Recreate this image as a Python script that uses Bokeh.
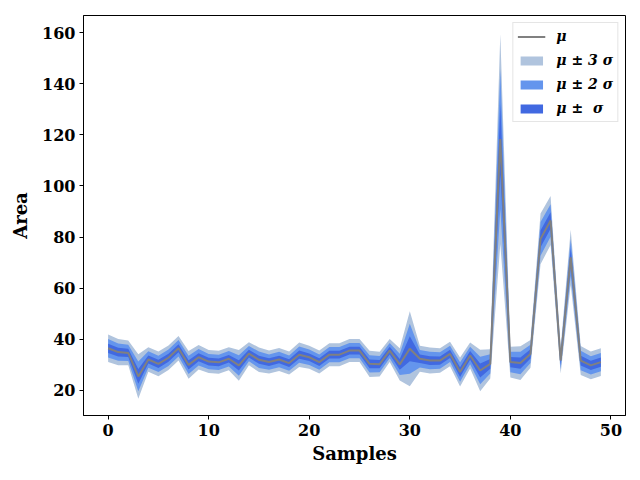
import numpy as np
from bokeh.plotting import figure
from bokeh.models import ColumnDataSource, Legend, LegendItem, FixedTicker, Range1d
from bokeh.embed import file_html
from bokeh.resources import INLINE

# Per-sample mean area and its standard deviation
samples = list(range(50))
mu = [36.5, 35.0, 34.7, 25.5, 32.1, 30.4, 32.8, 36.5, 30.0, 33.0,
      31.3, 31.0, 32.4, 29.8, 34.4, 32.0, 31.1, 32.1, 30.7, 34.0,
      33.0, 31.1, 34.0, 34.0, 35.6, 35.6, 30.4, 30.3, 35.6, 30.2,
      36.3, 32.4, 31.7, 31.7, 34.3, 27.2, 33.7, 27.8, 30.4, 118.4,
      31.1, 30.7, 34.3, 79.3, 86.5, 31.7, 72.1, 31.7, 29.8, 31.1]
sigma = [1.8, 1.7, 1.6, 2.9, 1.6, 1.6, 1.6, 1.6, 1.8, 1.6,
         1.5, 1.5, 1.5, 2.0, 1.5, 1.6, 1.5, 1.5, 1.5, 1.6,
         1.5, 1.5, 1.5, 1.5, 1.5, 1.5, 1.7, 1.6, 1.5, 2.1,
         4.9, 1.7, 1.7, 1.6, 1.6, 1.9, 1.7, 2.7, 1.9, 13.7,
         2.0, 2.2, 1.8, 3.3, 3.2, 1.7, 3.6, 1.9, 1.8, 1.8]

x_ticks = [0, 10, 20, 30, 40, 50]
y_ticks = [20, 40, 60, 80, 100, 120, 140, 160]

m = np.array(mu)
s = np.array(sigma)
src = ColumnDataSource(dict(
    x=samples, mu=mu,
    lo3=m - 3 * s, hi3=m + 3 * s,
    lo2=m - 2 * s, hi2=m + 2 * s,
    lo1=m - s, hi1=m + s,
))

FONT = "DejaVu Serif"

p = figure(width=640, height=480, output_backend="svg", toolbar_location=None,
           x_range=Range1d(-2.45, 51.45), y_range=Range1d(10.2, 166.7),
           min_border_left=83, min_border_right=15, min_border_top=15,
           min_border_bottom=65)

r3 = p.varea(x="x", y1="lo3", y2="hi3", source=src, fill_color="#B0C4DE")
r2 = p.varea(x="x", y1="lo2", y2="hi2", source=src, fill_color="#6495ED")
r1 = p.varea(x="x", y1="lo1", y2="hi1", source=src, fill_color="#4169E1")
rl = p.line(x="x", y="mu", source=src, line_color="grey", line_width=2)

p.xgrid.visible = False
p.ygrid.visible = False
p.outline_line_color = "black"
p.outline_line_width = 1
p.background_fill_color = "white"
p.border_fill_color = "white"

p.xaxis.ticker = FixedTicker(ticks=x_ticks)
p.yaxis.ticker = FixedTicker(ticks=y_ticks)
p.xaxis.axis_label = "Samples"
p.yaxis.axis_label = "Area"
for ax in (p.xaxis[0], p.yaxis[0]):
    ax.axis_label_text_font = FONT
    ax.axis_label_text_font_style = "bold"
    ax.axis_label_text_font_size = "18px"
    ax.axis_label_text_color = "black"
    ax.major_label_text_font = FONT
    ax.major_label_text_font_style = "bold"
    ax.major_label_text_font_size = "16px"
    ax.major_label_text_color = "black"
    ax.minor_tick_line_color = None
    ax.major_tick_in = 0
    ax.major_tick_out = 4
    ax.axis_line_color = "black"
    ax.major_label_standoff = 4
p.xaxis.axis_label_standoff = 4
p.yaxis.axis_label_standoff = 8

legend = Legend(items=[
    LegendItem(label="μ", renderers=[rl]),
    LegendItem(label="μ ± 3 σ", renderers=[r3]),
    LegendItem(label="μ ± 2 σ", renderers=[r2]),
    LegendItem(label="μ ±  σ", renderers=[r1]),
], location="top_right")
legend.label_text_font = FONT
legend.label_text_font_style = "bold italic"
legend.label_text_font_size = "14px"
legend.label_text_color = "black"
legend.glyph_width = 28
legend.glyph_height = 11
legend.label_height = 18
legend.spacing = 6
legend.padding = 4
legend.margin = 7
legend.border_line_color = "#cccccc"
legend.background_fill_alpha = 0.85
legend.label_standoff = 11
p.add_layout(legend)

open("out.html", "w").write(file_html(p, INLINE))
